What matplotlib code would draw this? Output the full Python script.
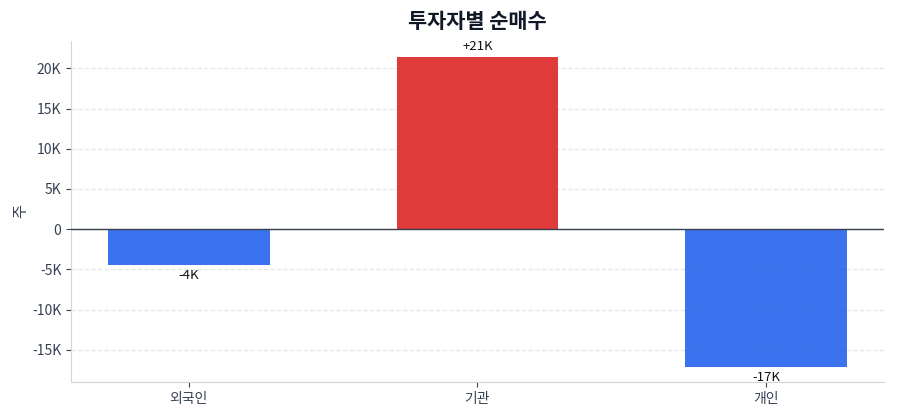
import matplotlib
matplotlib.use("Agg")
import matplotlib.pyplot as plt
from matplotlib.ticker import FuncFormatter

plt.rcParams['font.family'] = ['Noto Sans CJK KR', 'DejaVu Sans']
plt.rcParams['axes.unicode_minus'] = False

investors = ['외국인', '기관', '개인']
net_buy = [-4400, 21400, -17100]
labels = ['-4K', '+21K', '-17K']

blue = '#2563eb'
red = '#dc2626'
colors = [red if v > 0 else blue for v in net_buy]

fig = plt.figure(figsize=(9, 4.2), dpi=100)
ax = fig.add_axes([0.079, 0.0905, 0.903, 0.812])

bars = ax.bar(investors, net_buy, width=0.56, color=colors, alpha=0.9, zorder=3)
ax.bar_label(bars, labels=labels, padding=3, fontsize=9.5, color='#111111')

ax.axhline(0, color='#374151', linewidth=1, zorder=4)
ax.set_ylim(-19000, 23400)

def kfmt(v, pos):
  if v == 0:
    return '0'
  return f'{v/1000:.0f}K'

ax.yaxis.set_major_formatter(FuncFormatter(kfmt))
ax.grid(axis='y', linestyle='--', color='#e5e7eb', linewidth=0.9, zorder=0)
ax.set_axisbelow(True)

for s in ['top', 'right']:
  ax.spines[s].set_visible(False)
for s in ['left', 'bottom']:
  ax.spines[s].set_color('#d1d5db')

ax.tick_params(colors='#374151', labelsize=10)
ax.set_ylabel('주', fontsize=11, color='#374151', labelpad=2)
ax.set_title('투자자별 순매수', fontsize=15, fontweight='bold', color='#111827', pad=9)

fig.savefig('out.png', dpi=100)
